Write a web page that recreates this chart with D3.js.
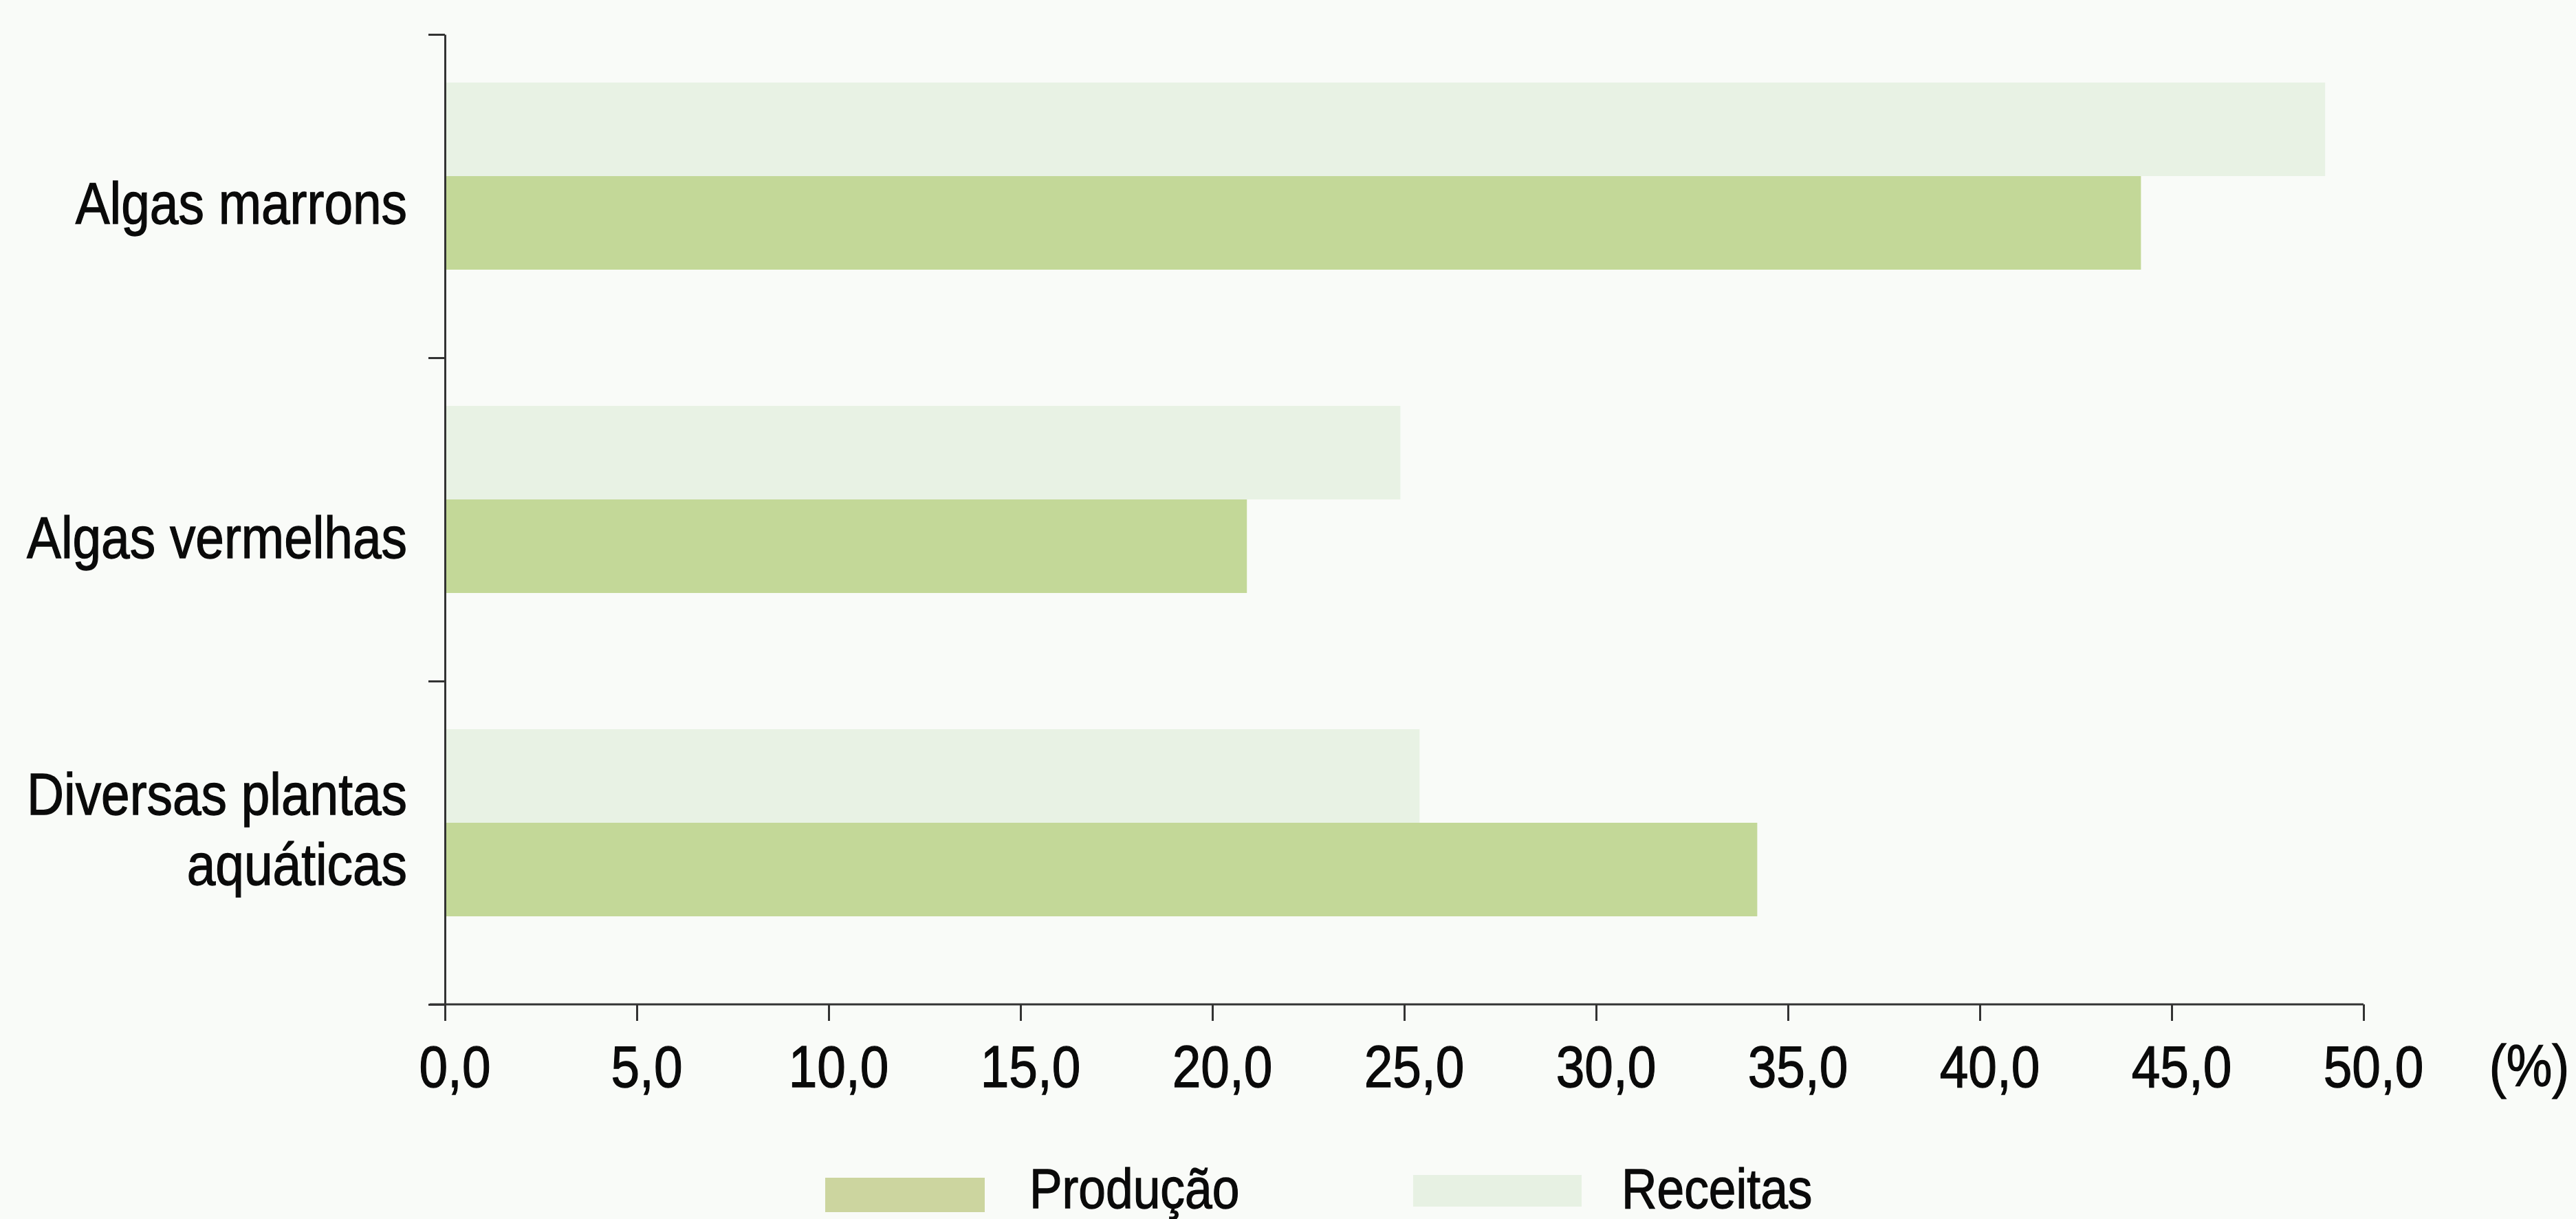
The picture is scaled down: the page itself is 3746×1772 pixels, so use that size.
<!DOCTYPE html>
<html>
<head>
<meta charset="utf-8">
<script src="https://cdn.jsdelivr.net/npm/d3@7"></script>
<style>
  html, body { margin: 0; padding: 0; background: #f9fbf8; }
  svg { display: block; }
  text { font-family: "Liberation Sans", Arial, sans-serif; fill: #0a0a0a; stroke: #0a0a0a; stroke-width: 1.3px; }
</style>
</head>
<body>
<svg id="chart" width="3746" height="1772"></svg>
<script>
// Categories (label lines) and the two series, in percent
const categories = ["Algas marrons", "Algas vermelhas", "Diversas plantas aquáticas"];
const categoryLines = [["Algas marrons"], ["Algas vermelhas"], ["Diversas plantas", "aquáticas"]];
const seriesNames = ["Receitas", "Produção"];
const receitas = [49.0, 24.9, 25.4];
const producao = [44.2, 20.9, 34.2];
const xTicks = [0, 5, 10, 15, 20, 25, 30, 35, 40, 45, 50];
const unitLabel = "(%)";

const colors = { "Receitas": "#e8f2e4", "Produção": "#c3d898" };
const legendColors = { "Receitas": "#e7f1e3", "Produção": "#ccd59f" };

// horizontal squeeze that gives the condensed look of the labels
const narrow = 0.87;

const svg = d3.select("#chart");
const W = 3746, H = 1772;
svg.append("rect").attr("width", W).attr("height", H).attr("fill", "#f9fbf8");

const plotTop = 50, plotBottom = 1460, plotLeft = 647, plotRight = 3437;

const x = d3.scaleLinear().domain([0, 50]).range([plotLeft, plotRight]);
const y = d3.scaleBand().domain(categories).range([plotTop, plotBottom]);
const sub = d3.scaleBand().domain(seriesNames).range([70, 342]);

const rows = categories.map((c, i) => ({
  cat: c, lines: categoryLines[i],
  values: { "Receitas": receitas[i], "Produção": producao[i] }
}));

function label(px, py, str, size, anchor) {
  svg.append("g")
    .attr("transform", `translate(${px},${py}) scale(${narrow},1)`)
    .append("text")
    .attr("text-anchor", anchor)
    .attr("font-size", size)
    .text(str);
}

// Bars
const g = svg.append("g");
rows.forEach(r => {
  seriesNames.forEach(s => {
    g.append("rect")
      .attr("x", x(0))
      .attr("y", y(r.cat) + sub(s))
      .attr("width", x(r.values[s]) - x(0))
      .attr("height", sub.bandwidth())
      .attr("fill", colors[s]);
  });
});

// Axes
const fmt = d => d.toFixed(1).replace(".", ",");
const xAxis = svg.append("g")
  .attr("transform", `translate(0,${plotBottom})`)
  .call(d3.axisBottom(x).tickValues(xTicks).tickFormat(fmt).tickSize(24).tickSizeOuter(0).tickPadding(35));
xAxis.select(".domain").attr("d", `M${plotLeft - 22},0H${plotRight}`);
xAxis.selectAll("line").attr("stroke", "#333").attr("stroke-width", 3);
xAxis.select(".domain").attr("stroke", "#333").attr("stroke-width", 3);
xAxis.selectAll("text")
  .attr("font-size", 86)
  .attr("transform", `translate(14,0) scale(${narrow},1)`)
  .attr("fill", "#0a0a0a")
  .style("font-family", '"Liberation Sans", Arial, sans-serif');

const yBounds = d3.scaleLinear().domain([0, categories.length]).range([plotTop, plotBottom]);
const yAxis = svg.append("g")
  .attr("transform", `translate(${plotLeft},0)`)
  .call(d3.axisLeft(yBounds).tickValues(d3.range(categories.length + 1)).tickFormat("").tickSize(24).tickSizeOuter(0));
yAxis.selectAll("line").attr("stroke", "#333").attr("stroke-width", 3);
yAxis.select(".domain").attr("stroke", "#333").attr("stroke-width", 3);

// Unit label
label(3678, 1579, unitLabel, 86, "middle");

// Category labels
const labelOffsets = [10, 26, -20];
rows.forEach((r, i) => {
  const cy = y(r.cat) + y.bandwidth() / 2 + labelOffsets[i];
  const lh = 102;
  r.lines.forEach((ln, k) => {
    const yy = cy + (k - (r.lines.length - 1) / 2) * lh + 30;
    label(592, yy, ln, 86, "end");
  });
});

// Legend
const legend = [
  { name: "Produção", sx: 1200, sy: 1712, sw: 232, sh: 50, tx: 1497 },
  { name: "Receitas", sx: 2055, sy: 1708, sw: 245, sh: 46, tx: 2358 }
];
legend.forEach(l => {
  svg.append("rect").attr("x", l.sx).attr("y", l.sy).attr("width", l.sw).attr("height", l.sh)
    .attr("fill", legendColors[l.name]);
  label(l.tx, 1756, l.name, 82, "start");
});
</script>
</body>
</html>
